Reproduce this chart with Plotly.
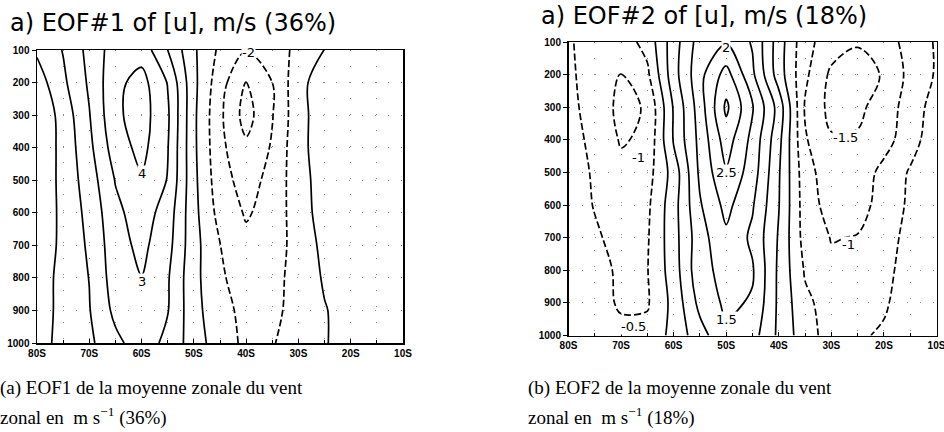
import plotly.graph_objects as go

# ---------------- data ----------------
lats = [-80, -75, -70, -65, -60, -55, -50, -45, -40, -35, -30, -25, -20, -15, -10]
levels = [100, 200, 300, 400, 500, 600, 700, 800, 900, 1000]

# EOF1 of zonal-mean zonal wind (m/s), rows = pressure levels, cols = latitudes 80S..10S
eof1_p100 = [0.15, 1.05, 2.3, 3.5, 3.6, 2.0, 0.15, -1.2, -1.95, -1.5, -0.75, 0.02, 0.35, 0.45, 0.5]
eof1_p200 = [-0.5, 0.8, 2.15, 3.75, 4.35, 2.95, 0.25, -1.6, -3.05, -2.0, -0.35, 0.6, 0.7, 0.6, 0.5]
eof1_p300 = [-0.9, 0.4, 1.95, 3.8, 4.45, 3.15, 0.2, -1.8, -3.4, -2.05, -0.35, 0.55, 0.65, 0.55, 0.45]
eof1_p400 = [-0.8, 0.3, 1.75, 3.5, 4.3, 3.05, 0.2, -1.75, -2.8, -1.9, -0.3, 0.5, 0.6, 0.5, 0.4]
eof1_p500 = [-0.8, 0.3, 1.5, 3.05, 3.9, 2.95, 0.25, -1.6, -2.4, -1.7, -0.4, 0.45, 0.55, 0.5, 0.4]
eof1_p600 = [-0.75, 0.25, 1.3, 2.75, 3.5, 2.55, 0.3, -1.35, -2.1, -1.65, -0.45, 0.4, 0.5, 0.45, 0.4]
eof1_p700 = [-0.7, 0.25, 1.15, 2.6, 3.25, 2.35, 0.35, -0.98, -1.75, -1.5, -0.6, 0.25, 0.45, 0.4, 0.35]
eof1_p800 = [-0.6, 0.35, 1.02, 2.5, 2.98, 2.1, 0.3, -0.85, -1.5, -1.35, -0.6, 0.1, 0.4, 0.35, 0.3]
eof1_p900 = [-0.5, 0.3, 0.95, 2.25, 2.75, 2.05, 0.35, -0.7, -1.25, -1.2, -0.7, -0.05, 0.35, 0.3, 0.3]
eof1_p1000 = [-0.45, 0.35, 0.8, 1.75, 2.5, 1.75, 0.5, -0.55, -1.2, -1.05, -0.65, -0.05, 0.3, 0.3, 0.25]

# EOF2
eof2_p100 = [-0.45, -0.7, -0.75, -0.33, 0.77, 1.73, 1.95, 1.45, 0.25, -0.85, -1.25, -1.45, -1.25, -0.8, -0.45]
eof2_p200 = [-0.4, -0.75, -1.02, -0.6, 0.8, 1.85, 2.7, 1.6, 0.25, -0.9, -1.6, -1.75, -1.45, -0.85, -0.45]
eof2_p300 = [-0.4, -0.65, -1.15, -0.95, 0.55, 1.75, 3.1, 2.05, 0.8, -1.05, -1.65, -1.6, -1.3, -0.75, -0.3]
eof2_p400 = [-0.35, -0.6, -1.05, -0.9, 0.55, 1.65, 2.75, 1.85, 0.65, -0.95, -1.45, -1.45, -1.2, -0.7, -0.2]
eof2_p500 = [-0.3, -0.55, -0.85, -0.7, 0.2, 1.6, 2.45, 1.75, 0.55, -0.8, -1.3, -1.3, -0.85, -0.45, -0.15]
eof2_p600 = [-0.3, -0.52, -0.7, -0.6, 0.3, 1.45, 2.15, 1.55, 0.52, -0.75, -1.2, -1.15, -0.85, -0.4, -0.15]
eof2_p700 = [-0.25, -0.45, -0.62, -0.55, 0.3, 1.3, 1.9, 1.4, 0.45, -0.7, -1.02, -0.98, -0.7, -0.35, -0.15]
eof2_p800 = [-0.2, -0.4, -0.55, -0.52, 0.25, 1.35, 1.65, 1.55, 0.4, -0.55, -0.9, -0.85, -0.6, -0.35, -0.15]
eof2_p900 = [-0.15, -0.35, -0.55, -0.55, 0.15, 1.15, 1.6, 1.45, 0.4, -0.4, -0.7, -0.7, -0.55, -0.3, -0.1]
eof2_p1000 = [-0.1, -0.25, -0.4, -0.35, 0.15, 0.8, 1.4, 1.2, 0.4, -0.3, -0.7, -0.55, -0.45, -0.25, -0.1]

eof1 = [eof1_p100, eof1_p200, eof1_p300, eof1_p400, eof1_p500,
        eof1_p600, eof1_p700, eof1_p800, eof1_p900, eof1_p1000]
eof2 = [eof2_p100, eof2_p200, eof2_p300, eof2_p400, eof2_p500,
        eof2_p600, eof2_p700, eof2_p800, eof2_p900, eof2_p1000]

x_tickvals = [-80, -70, -60, -50, -40, -30, -20, -10]
x_ticktext = ["80S", "70S", "60S", "50S", "40S", "30S", "20S", "10S"]
y_tickvals = levels
y_ticktext = ["100", "200", "300", "400", "500", "600", "700", "800", "900", "1000"]

titles = ["a) EOF#1 of [u], m/s (36%)", "a) EOF#2 of [u], m/s (18%)"]
caption_line1 = ["(a) EOF1 de la moyenne zonale du vent", "(b) EOF2 de la moyenne zonale du vent"]
caption_line2 = ["zonal en  m s<sup>\u22121</sup> (36%)", "zonal en  m s<sup>\u22121</sup> (18%)"]

# contour labels: (lat, pressure, text)
eof1_labels = [(-60, 478, "4"), (-60, 812, "3"), (-39.5, 108, "-2")]
eof2_labels = [(-50, 118, "2"), (-50, 500, "2.5"), (-50, 952, "1.5"),
               (-67.6, 972, "-0.5"), (-66.6, 455, "-1"),
               (-27.4, 392, "-1.5"), (-26.7, 722, "-1")]

# ---------------- figure ----------------
W, H = 944, 432
fig = go.Figure()
black = [[0, "black"], [1, "black"]]


def add_panel(z, xa, ya, pos_end, neg_start, size):
    fig.add_trace(go.Contour(
        x=lats, y=levels, z=z, xaxis=xa, yaxis=ya,
        autocontour=False,
        contours=dict(coloring="lines", start=0, end=pos_end, size=size, showlabels=False),
        colorscale=black, showscale=False, line=dict(width=1.7, smoothing=1),
        hoverinfo="skip"))
    fig.add_trace(go.Contour(
        x=lats, y=levels, z=z, xaxis=xa, yaxis=ya,
        autocontour=False,
        contours=dict(coloring="lines", start=neg_start, end=-size, size=size, showlabels=False),
        colorscale=black, showscale=False,
        line=dict(width=1.7, dash="7px,3px", smoothing=1),
        hoverinfo="skip"))


add_panel(eof1, "x", "y", 4, -3, 1)
add_panel(eof2, "x2", "y2", 3, -1.5, 0.5)

tickfont = dict(family="Liberation Sans", size=10, color="black", weight="bold")


def xaxis(domain, anchor):
    return dict(domain=domain, anchor=anchor, range=[-80, -10], automargin=False,
                tickmode="array", tickvals=x_tickvals, ticktext=x_ticktext,
                ticklabeloverflow="allow",
                showline=True, linecolor="black", linewidth=1.5, mirror=True,
                ticks="inside", ticklen=4, tickcolor="black", tickwidth=1,
                tickfont=tickfont, zeroline=False,
                showgrid=True, gridcolor="#8a8a8a", gridwidth=1, griddash="1px,15px",
                minor=dict(tickmode="linear", tick0=-80, dtick=5, ticks="inside", ticklen=3,
                           tickcolor="black", showgrid=True, gridcolor="#8a8a8a",
                           griddash="1px,15px", gridwidth=1))


def yaxis(domain, anchor):
    return dict(domain=domain, anchor=anchor, range=[1000, 100], automargin=False,
                tickmode="array", tickvals=y_tickvals, ticktext=y_ticktext,
                ticklabeloverflow="allow",
                showline=True, linecolor="black", linewidth=1.5, mirror=True,
                ticks="outside", ticklen=4, tickcolor="black", tickwidth=1,
                tickfont=tickfont, zeroline=False,
                showgrid=True, gridcolor="#8a8a8a", gridwidth=1, griddash="1px,12px")


def px_x(v):
    return v / W


def px_y(v):
    return 1 - v / H


fig.update_layout(
    width=W, height=H, margin=dict(l=0, r=0, t=0, b=0, autoexpand=False),
    paper_bgcolor="white", plot_bgcolor="white", showlegend=False,
    xaxis=xaxis([px_x(37), px_x(403)], "y"),
    yaxis=yaxis([px_y(343), px_y(50)], "x"),
    xaxis2=xaxis([px_x(568.5), px_x(936.5)], "y2"),
    yaxis2=yaxis([px_y(335.5), px_y(42)], "x2"),
)

annotations = []
label_font = dict(family="DejaVu Sans", size=13, color="black")
for (lx, ly, t) in eof1_labels:
    annotations.append(dict(x=lx, y=ly, xref="x", yref="y", text=t, showarrow=False,
                            font=label_font, bgcolor="white", borderpad=0))
for (lx, ly, t) in eof2_labels:
    annotations.append(dict(x=lx, y=ly, xref="x2", yref="y2", text=t, showarrow=False,
                            font=label_font, bgcolor="white", borderpad=0))

title_font = dict(family="DejaVu Sans", size=24, color="black")
annotations.append(dict(x=px_x(9), y=px_y(23), xref="paper", yref="paper", text=titles[0],
                        showarrow=False, xanchor="left", yanchor="middle", font=title_font,
                        borderpad=0))
annotations.append(dict(x=px_x(540), y=px_y(16), xref="paper", yref="paper", text=titles[1],
                        showarrow=False, xanchor="left", yanchor="middle", font=title_font,
                        borderpad=0))

cap_font = dict(family="Liberation Serif", size=19, color="black")
for i, x0 in enumerate([-1, 527]):
    annotations.append(dict(x=px_x(x0), y=px_y(388), xref="paper", yref="paper",
                            text=caption_line1[i], showarrow=False, xanchor="left",
                            yanchor="middle", font=cap_font, borderpad=0))
    annotations.append(dict(x=px_x(x0), y=px_y(416), xref="paper", yref="paper",
                            text=caption_line2[i], showarrow=False, xanchor="left",
                            yanchor="middle", font=cap_font, borderpad=0))

fig.update_layout(annotations=annotations)
fig.write_html(
    "out.html",
    config={"displayModeBar": False, "staticPlot": True},
    post_script="document.body.style.margin='0';document.body.style.overflow='hidden';",
)
